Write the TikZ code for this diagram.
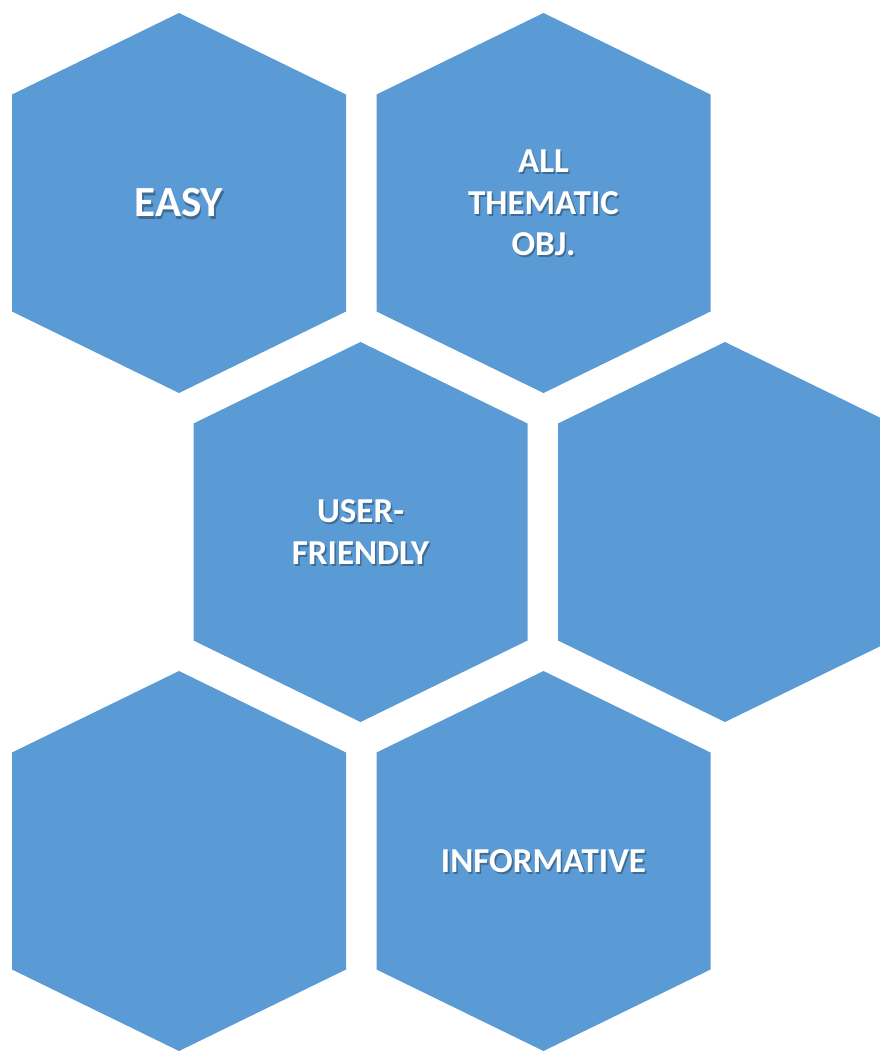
\documentclass[tikz,border=0pt]{standalone}
\usepackage{fontspec}
\setmainfont{Carlito}
\definecolor{hexblue}{RGB}{91,155,213}
\tikzset{
  hexfill/.style={fill=hexblue},
  hextext/.style={text=white, font=\bfseries\fontsize{35}{41.5}\selectfont, align=center, inner sep=0pt},
  hexshadow/.style={hextext, text=black, text opacity=0.3},
}
% label with a drop shadow: name, centre, text
\newcommand{\hexlabel}[4][]{%
  \node[hexshadow,#1] at ([shift={(1.6,2.2)}]#3) {#4};
  \node[hextext,#1] (#2) at (#3) {#4};
}

\begin{document}
\begin{tikzpicture}[x=1pt,y=-1pt]
    % Page
    \clip (0,0) rectangle (880,1053);

    % Hexagon centres
    \coordinate (h1) at (179,203);
    \coordinate (h2) at (543.5,203);
    \coordinate (h3) at (360.5,532);
    \coordinate (h4) at (725,532);
    \coordinate (h5) at (179,861);
    \coordinate (h6) at (543.5,861);

    % Hexagons
    \foreach \h in {h1,h2,h3,h4,h5,h6}
      \fill[hexfill] ([shift={(0,-190)}]\h) -- ([shift={(167,-108.5)}]\h)
        -- ([shift={(167,108.5)}]\h) -- ([shift={(0,190)}]\h)
        -- ([shift={(-167,108.5)}]\h) -- ([shift={(-167,-108.5)}]\h) -- cycle;

    % Labels
    \hexlabel[font=\bfseries\fontsize{43}{50}\selectfont]{easy}{h1}{EASY}
    \hexlabel{thematic}{h2}{ALL\\THEMATIC\\OBJ.}
    \hexlabel{userfriendly}{h3}{USER-\\FRIENDLY}
    \hexlabel{informative}{h6}{INFORMATIVE}
\end{tikzpicture}
\end{document}
